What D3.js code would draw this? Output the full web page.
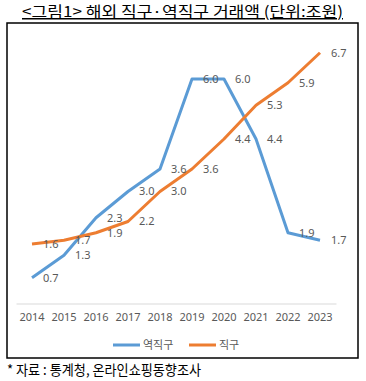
<!DOCTYPE html>
<html>
<head>
<meta charset="utf-8">
<script src="https://cdn.jsdelivr.net/npm/d3@7"></script>
<style>
    body { margin: 0; background: #fff; }
    #chart-container svg { display: block; }
    .axis-scale text { font-family: "Noto Sans", sans-serif; font-size: 11px; fill: #595959; }
    .axis-scale path { stroke: #d9d9d9; }
</style>
</head>
<body>
<div id="chart-container"></div>
<script>
// prepare years data for x axis scale
const YEARS = ["2014", "2015", "2016", "2017", "2018", "2019", "2020", "2021", "2022", "2023"];

// 역직구 values (조원)
const REVERSE_DIRECT = [0.7, 1.3, 2.3, 3.0, 3.6, 6.0, 6.0, 4.4, 1.9, 1.7];

// 직구 values (조원)
const DIRECT = [1.6, 1.7, 1.9, 2.2, 3.0, 3.6, 4.4, 5.3, 5.9, 6.7];

// series names for legend
const SERIES_NAMES = ["역직구", "직구"];

function drawChart() {
    // set chart dimensions
    const width = 366;
    const height = 381;
    const plot = { left: 16, right: 336, top: 41.5, bottom: 304 };

    // appending svg tag for chart
    const svg = d3.select("#chart-container")
        .append("svg")
        .attr("width", width)
        .attr("height", height);

    // title with underline
    svg.append("text")
        .attr("x", 22)
        .attr("y", 17)
        .attr("textLength", 321)
        .attr("lengthAdjust", "spacingAndGlyphs")
        .attr("font-family", "'Noto Sans CJK KR', sans-serif")
        .attr("font-weight", 400)
        .attr("font-size", "15px")
        .attr("fill", "#000")
        .attr("text-decoration", "underline")
        .text("<그림1> 해외 직구·역직구 거래액 (단위:조원)");

    // outer frame
    svg.append("rect")
        .attr("x", 7)
        .attr("y", 23)
        .attr("width", 351)
        .attr("height", 335)
        .attr("fill", "none")
        .attr("stroke", "#000")
        .attr("stroke-width", 1.5);

    // crate x axis scale
    const x = d3.scaleBand()
        .domain(YEARS)
        .range([plot.left, plot.right]);

    // crate y axis scale
    const y = d3.scaleLinear()
        .domain([0, 7])
        .range([plot.bottom, plot.top]);

    // append bottom scale
    svg.append("g")
        .attr("class", "axis-scale")
        .attr("transform", `translate(0,${plot.bottom - 0.5})`)
        .call(d3.axisBottom(x).tickSize(0).tickPadding(10))
        .call((g) => g.select(".domain").attr("stroke", "#d9d9d9"));

    // series config
    const series = [
        { name: SERIES_NAMES[0], values: REVERSE_DIRECT, color: "#5b9bd5" },
        { name: SERIES_NAMES[1], values: DIRECT, color: "#ed7d31" },
    ];

    const line = d3.line()
        .x((d, i) => x(YEARS[i]) + x.bandwidth() / 2)
        .y((d) => y(d));

    // show lines
    series.forEach((s) => {
        svg.append("path")
            .datum(s.values)
            .attr("fill", "none")
            .attr("stroke", s.color)
            .attr("stroke-width", 3)
            .attr("stroke-linejoin", "round")
            .attr("d", line);
    });

    // show value labels at right of each point
    series.forEach((s) => {
        svg.append("g")
            .selectAll("text")
            .data(s.values)
            .enter()
            .append("text")
            .attr("x", (d, i) => x(YEARS[i]) + x.bandwidth() / 2 + 11)
            .attr("y", (d) => y(d))
            .attr("dy", "0.35em")
            .attr("font-family", "'Noto Sans', sans-serif")
            .attr("font-size", "11px")
            .attr("fill", "#595959")
            .text((d) => d.toFixed(1));
    });

    // legend
    const legendX = [113, 189];
    series.forEach((s, i) => {
        svg.append("line")
            .attr("x1", legendX[i])
            .attr("x2", legendX[i] + 27)
            .attr("y1", 345)
            .attr("y2", 345)
            .attr("stroke", s.color)
            .attr("stroke-width", 3);
        svg.append("text")
            .attr("x", legendX[i] + 30)
            .attr("y", 345)
            .attr("dy", "0.35em")
            .attr("font-family", "'Noto Sans CJK KR', sans-serif")
            .attr("font-size", "11px")
            .attr("fill", "#595959")
            .text(s.name);
    });

    // source note
    svg.append("text")
        .attr("x", 7)
        .attr("y", 375)
        .attr("textLength", 194)
        .attr("lengthAdjust", "spacingAndGlyphs")
        .attr("font-family", "'Noto Sans CJK KR', sans-serif")
        .attr("font-weight", 400)
        .attr("font-size", "14px")
        .attr("fill", "#000")
        .text("* 자료 : 통계청, 온라인쇼핑동향조사");
}

window.onload = () => {
    drawChart();
}
</script>
</body>
</html>
